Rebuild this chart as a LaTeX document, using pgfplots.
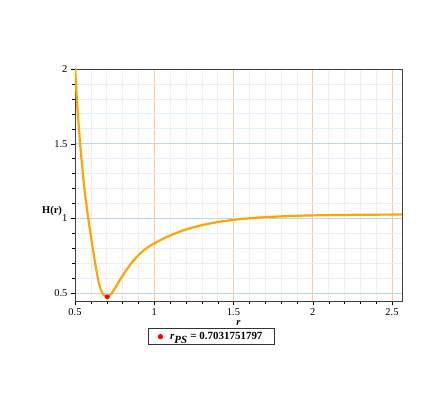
\documentclass[border=0pt]{standalone}
\usepackage{pgfplots}
\pgfplotsset{compat=1.18}
\usepackage{fontspec}
\setmainfont{Liberation Serif}

\definecolor{curve}{RGB}{255,165,0}
\definecolor{gridx}{RGB}{255,200,150}
\definecolor{gridy}{RGB}{180,215,245}
\definecolor{minorx}{RGB}{255,236,220}
\definecolor{minory}{RGB}{226,239,252}

\pgfplotstableread{
r H
0.500 2.020
0.510 1.828
0.520 1.672
0.530 1.532
0.540 1.407
0.550 1.295
0.560 1.195
0.570 1.106
0.580 1.026
0.590 0.953
0.600 0.882
0.610 0.813
0.620 0.746
0.630 0.682
0.640 0.623
0.650 0.572
0.660 0.532
0.670 0.504
0.680 0.487
0.690 0.479
0.703 0.477
0.715 0.481
0.725 0.490
0.740 0.511
0.760 0.545
0.780 0.581
0.800 0.615
0.820 0.647
0.840 0.677
0.860 0.705
0.880 0.730
0.900 0.753
0.930 0.782
0.960 0.806
1.000 0.832
1.050 0.860
1.100 0.885
1.150 0.906
1.200 0.925
1.300 0.954
1.400 0.975
1.500 0.9895
1.600 1.000
1.700 1.0075
1.850 1.0148
2.000 1.0193
2.250 1.0231
2.500 1.0248
2.563 1.025
}\hdata

\begin{document}
\begin{tikzpicture}
  \useasboundingbox (-75bp,-108bp) rectangle (361bp,301bp);
  \begin{axis}[
      scale only axis,
      width=327bp,
      height=232bp,
      xmin=0.5, xmax=2.563,
      ymin=0.446, ymax=2,
      xtick={0.5,1,1.5,2,2.5},
      ytick={0.5,1,1.5,2},
      minor tick num=4,
      tick align=outside,
      xtick pos=bottom,
      ytick pos=left,
      major tick length=4bp,
      minor tick length=2.5bp,
      tick style={black},
      axis line style={black!75, thick},
      xmajorgrids, ymajorgrids, xminorgrids, yminorgrids,
      x grid style={gridx, line width=0.8pt},
      y grid style={gridy, line width=0.8pt},
      minor x grid style={minorx, line width=0.6pt},
      minor y grid style={minory, line width=0.6pt},
      /pgf/number format/assume math mode=true,
      tick label style={font=\fontsize{10.5}{12}\selectfont},
      xlabel={\textbf{\textit{r}}},
      xlabel style={at={(axis description cs:0.5,-0.096)}, anchor=center, font=\fontsize{10.5}{12}\selectfont},
      ylabel={\textbf{H(r)}},
      ylabel style={at={(axis description cs:-0.07,0.39)}, rotate=-90, anchor=center, font=\fontsize{10.5}{12}\selectfont},
      legend style={at={(0.417,-0.118)}, anchor=north, draw=black!80, thick, fill=white,
        font=\fontsize{11}{13}\selectfont, inner xsep=10pt, inner ysep=1.5pt},
      legend cell align=left,
    ]
    \addplot[curve, line width=2.2pt, smooth, tension=0.5, forget plot] table[x=r, y=H] {\hdata};
    \addplot[only marks, mark=*, mark size=2.2pt, color=red] coordinates {(0.7031751797, 0.474)};
    \addlegendentry{\ \ \textbf{\textit{r}$_{\textbf{\textit{PS}}}$ = 0.7031751797}}
  \end{axis}
\end{tikzpicture}
\end{document}
